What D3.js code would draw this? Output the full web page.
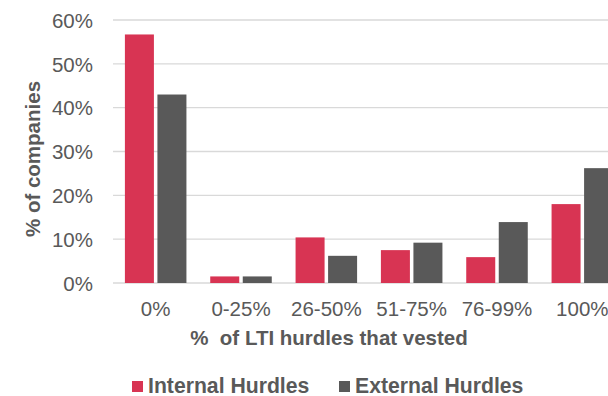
<!DOCTYPE html>
<html>
<head>
<meta charset="utf-8">
<script src="https://cdn.jsdelivr.net/npm/d3@7"></script>
<style>
  body { margin: 0; background: #fff; }
  svg { display: block; font-family: "Liberation Sans", Arial, sans-serif; }
</style>
</head>
<body>
<div id="chart"></div>
<script>
const categories = ["0%", "0-25%", "26-50%", "51-75%", "76-99%", "100%"];
const seriesNames = ["Internal Hurdles", "External Hurdles"];
const internalVals = [0.567, 0.015, 0.104, 0.075, 0.059, 0.180];
const externalVals = [0.430, 0.015, 0.062, 0.092, 0.139, 0.262];
const yTicks = [0, 0.1, 0.2, 0.3, 0.4, 0.5, 0.6];
const colors = ["#D83453", "#595959"];

const width = 608, height = 396;
const textColor = "#595959";

const svg = d3.select("#chart").append("svg")
  .attr("width", width)
  .attr("height", height);

const y = d3.scaleLinear()
  .domain([0, 0.6])
  .range([283, 20]);

// plot runs past the right edge of the picture, like the original crop
const x0 = d3.scaleBand()
  .domain(categories)
  .range([113, 625]);

const x1 = d3.scaleBand()
  .domain(seriesNames)
  .range([0, x0.bandwidth()])
  .paddingInner(0.108)
  .paddingOuter(0.366);

// gridlines
svg.append("g")
  .attr("class", "grid")
  .selectAll("line")
  .data(yTicks)
  .enter().append("line")
  .attr("x1", 113)
  .attr("x2", width)
  .attr("y1", d => y(d))
  .attr("y2", d => y(d))
  .style("stroke", "#D9D9D9")
  .style("stroke-width", 1.3);

// y axis labels
const yAxis = d3.axisLeft(y)
  .tickValues(yTicks)
  .tickSize(0)
  .tickPadding(0)
  .tickFormat(d3.format(".0%"));

svg.append("g")
  .attr("class", "y axis")
  .attr("transform", "translate(93,0)")
  .call(yAxis)
  .call(g => g.select(".domain").remove())
  .selectAll("text")
  .style("font-size", "20.5px")
  .style("fill", textColor)
  .attr("dy", "0.35em");

// bars
const rows = categories.map((c, i) => ({
  cat: c,
  vals: [
    {key: seriesNames[0], value: internalVals[i], color: colors[0]},
    {key: seriesNames[1], value: externalVals[i], color: colors[1]}
  ]
}));

svg.append("g")
  .attr("class", "bars")
  .selectAll("g")
  .data(rows)
  .enter().append("g")
  .attr("transform", d => "translate(" + x0(d.cat) + ",0)")
  .selectAll("rect")
  .data(d => d.vals)
  .enter().append("rect")
  .attr("x", d => x1(d.key))
  .attr("width", x1.bandwidth())
  .attr("y", d => y(d.value))
  .attr("height", d => y(0) - y(d.value))
  .style("fill", d => d.color);

// x axis labels
const xAxis = d3.axisBottom(x0)
  .tickSize(0)
  .tickPadding(0);

svg.append("g")
  .attr("class", "x axis")
  .attr("transform", "translate(0,300)")
  .call(xAxis)
  .call(g => g.select(".domain").remove())
  .selectAll("text")
  .style("font-size", "20.5px")
  .style("fill", textColor)
  .attr("dy", "0.76em");

// axis titles
svg.append("text")
  .attr("x", 329)
  .attr("y", 345)
  .attr("text-anchor", "middle")
  .style("font-size", "20.5px")
  .style("font-weight", "bold")
  .style("fill", textColor)
  .style("white-space", "pre")
  .text("%  of LTI hurdles that vested");

svg.append("text")
  .attr("transform", "translate(40,159) rotate(-90)")
  .attr("text-anchor", "middle")
  .style("font-size", "20.5px")
  .style("font-weight", "bold")
  .style("fill", textColor)
  .text("% of companies");

// legend
const legendX = [132, 339];
const legend = svg.append("g")
  .attr("class", "legend")
  .selectAll("g")
  .data(seriesNames)
  .enter().append("g")
  .attr("transform", (d, i) => "translate(" + legendX[i] + ",380)");

legend.append("rect")
  .attr("y", 1)
  .attr("width", 11)
  .attr("height", 11)
  .style("fill", (d, i) => colors[i]);

legend.append("text")
  .attr("x", 16)
  .attr("y", 13)
  .style("font-size", "21.2px")
  .style("font-weight", "bold")
  .style("fill", textColor)
  .text(d => d);
</script>
</body>
</html>
